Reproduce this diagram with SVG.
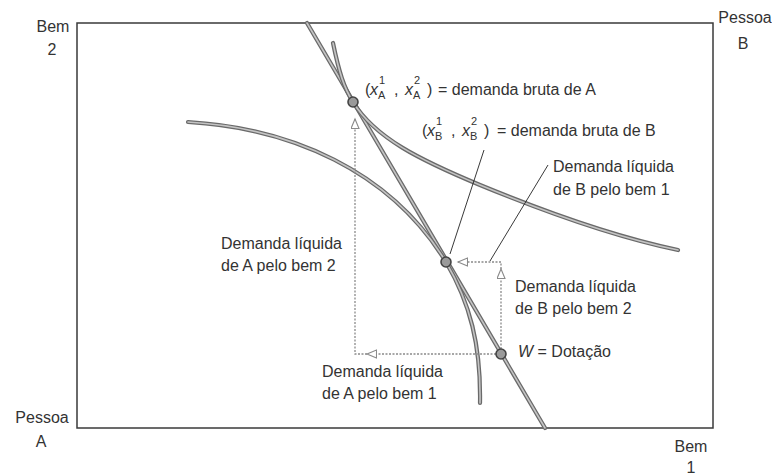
<svg xmlns="http://www.w3.org/2000/svg" xmlns:xlink="http://www.w3.org/1999/xlink" width="772" height="475" viewBox="0 0 772 475">
<style>
  text { font-family: "Liberation Sans", Arial, sans-serif; font-size: 16px; fill: #333; }
  .it { font-style: italic; }
  .sm { font-size: 11px; }
  .frame { fill: none; stroke: #3a3a3a; stroke-width: 1.5; }
  .outer { fill: none; stroke: #6a6a6a; stroke-width: 4.2; stroke-linecap: round; }
  .inner { fill: none; stroke: #c4c4c4; stroke-width: 1.6; stroke-linecap: round; }
  .dot { fill: none; stroke: #8a8a8a; stroke-width: 1.3; stroke-dasharray: 2 1.5; }
  .leader { fill: none; stroke: #222; stroke-width: 0.9; }
  .pt { fill: #9a9a9a; stroke: #444; stroke-width: 1.6; }
</style>
<defs>
  <marker id="arr" markerUnits="userSpaceOnUse" markerWidth="12" markerHeight="10" refX="10" refY="4.5" orient="auto">
    <path d="M0.5,0.5 L10,4.5 L0.5,8.5 Z" fill="#fff" stroke="#8a8a8a" stroke-width="1.1"/>
  </marker>
  <path id="budget" d="M307,23 L545,428"/>
  <path id="curveB" d="M188,122 C290,128 390,170 446,262 C470,303 481,345 480,403"/>
  <path id="curveA" d="M333,43 C339,72 344,88 353,102 C375,138 420,160 480,185 C560,218 620,238 678,250"/>
</defs>

<g id="box">
  <rect class="frame" x="77" y="23" width="636" height="405"/>
</g>

<g id="axis-labels">
  <text x="53" y="32" text-anchor="middle">Bem</text>
  <text x="52" y="55" text-anchor="middle">2</text>
  <text x="745" y="23" text-anchor="middle">Pessoa</text>
  <text x="743" y="49" text-anchor="middle">B</text>
  <text x="42" y="423" text-anchor="middle">Pessoa</text>
  <text x="41" y="447" text-anchor="middle">A</text>
  <text x="691" y="452" text-anchor="middle">Bem</text>
  <text x="691" y="473" text-anchor="middle">1</text>
</g>

<g id="budget-line">
  <use xlink:href="#budget" class="outer"/>
  <use xlink:href="#budget" class="inner"/>
</g>
<g id="indifference-B">
  <use xlink:href="#curveB" class="outer"/>
  <use xlink:href="#curveB" class="inner"/>
</g>
<g id="indifference-A">
  <use xlink:href="#curveA" class="outer"/>
  <use xlink:href="#curveA" class="inner"/>
</g>

<g id="connectors">
  <path class="dot" d="M496,354 H367" marker-end="url(#arr)"/>
  <path class="dot" d="M367,354 H355 V119" marker-end="url(#arr)"/>
  <path class="dot" d="M501,349 V269" marker-end="url(#arr)"/>
  <path class="dot" d="M501,269 V262 H458" marker-end="url(#arr)"/>
  <path class="leader" d="M484,150 L450,254"/>
  <path class="leader" d="M548,165 L490,261"/>
</g>

<g id="point-A"><circle class="pt" cx="353" cy="102" r="5"/></g>
<g id="point-B"><circle class="pt" cx="446" cy="262" r="5"/></g>
<g id="point-W"><circle class="pt" cx="501" cy="354" r="5"/></g>

<g id="label-gross-A">
  <text x="365" y="95">(</text>
  <text x="370" y="95" class="it">x</text>
  <text x="379" y="84" class="sm">1</text>
  <text x="378" y="99" class="sm">A</text>
  <text x="394" y="95">,</text>
  <text x="405" y="95" class="it">x</text>
  <text x="414" y="84" class="sm">2</text>
  <text x="413" y="99" class="sm">A</text>
  <text x="427" y="95">)</text>
  <text x="438" y="95">= demanda bruta de A</text>
</g>

<g id="label-gross-B">
  <text x="422" y="136">(</text>
  <text x="427" y="136" class="it">x</text>
  <text x="436" y="125" class="sm">1</text>
  <text x="435" y="140" class="sm">B</text>
  <text x="451" y="136">,</text>
  <text x="462" y="136" class="it">x</text>
  <text x="471" y="125" class="sm">2</text>
  <text x="470" y="140" class="sm">B</text>
  <text x="484" y="136">)</text>
  <text x="497" y="136">= demanda bruta de B</text>
</g>

<g id="label-net-B1">
  <text x="553" y="172">Demanda líquida</text>
  <text x="553" y="195">de B pelo bem 1</text>
</g>

<g id="label-net-A2">
  <text x="221" y="249">Demanda líquida</text>
  <text x="221" y="271">de A pelo bem 2</text>
</g>

<g id="label-net-B2">
  <text x="515" y="292">Demanda líquida</text>
  <text x="515" y="314">de B pelo bem 2</text>
</g>

<g id="label-W">
  <text x="518" y="357"><tspan class="it">W</tspan> = Dotação</text>
</g>

<g id="label-net-A1">
  <text x="322" y="377">Demanda líquida</text>
  <text x="322" y="399">de A pelo bem 1</text>
</g>
</svg>
